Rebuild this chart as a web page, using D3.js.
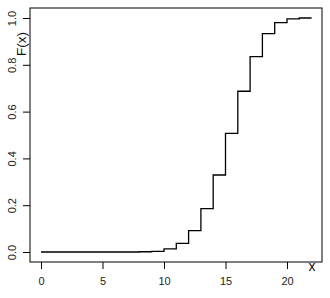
<!DOCTYPE html>
<html>
<head>
<meta charset="utf-8">
<script src="https://cdn.jsdelivr.net/npm/d3@7"></script>
<style>
  body { margin: 0; background: #fff; }
  svg { display: block; font-family: "Liberation Sans", Arial, sans-serif; }
  .axis path, .axis line { stroke: #000; }
  .axis text { fill: #222; font-size: 11px; }
</style>
</head>
<body>
<script>
// step points of the distribution function
var xVals = [0, 1, 2, 3, 4, 5, 6, 7, 8, 9, 10, 11, 12, 13, 14, 15, 16, 17, 18, 19, 20, 21, 22];
var fVals = [0, 0, 0, 0, 0, 0, 0, 0, 0.001, 0.003, 0.013, 0.037, 0.091, 0.185, 0.329, 0.507, 0.687, 0.835, 0.933, 0.98, 0.996, 1.0, 1.0];
var xTicks = [0, 5, 10, 15, 20];
var yTicks = [0, 0.2, 0.4, 0.6, 0.8, 1.0];

var width = 330, height = 298;
var box = {left: 30, top: 8, right: 322, bottom: 262};

var svg = d3.select("body").append("svg")
    .attr("width", width)
    .attr("height", height);

var x = d3.scaleLinear()
    .domain([0, 22])
    .range([41, 311.6]);

var y = d3.scaleLinear()
    .domain([0, 1])
    .range([252, 18]);

var data = xVals.map(function(d, i) { return {x: d, f: fVals[i]}; });

var line = d3.line()
    .curve(d3.curveStepAfter)
    .x(function(d) { return x(d.x); })
    .y(function(d) { return y(d.f); });

svg.append("path")
    .datum(data)
    .attr("fill", "none")
    .attr("stroke", "#000")
    .attr("stroke-width", 1.3)
    .attr("d", line);

// frame
svg.append("rect")
    .attr("x", box.left)
    .attr("y", box.top)
    .attr("width", box.right - box.left)
    .attr("height", box.bottom - box.top)
    .attr("fill", "none")
    .attr("stroke", "#000");

var xAxis = svg.append("g")
    .attr("class", "axis")
    .attr("transform", "translate(0," + box.bottom + ")")
    .call(d3.axisBottom(x).tickValues(xTicks).tickSize(7).tickSizeOuter(0).tickFormat(d3.format("d")));
xAxis.select(".domain").remove();
xAxis.selectAll("text").attr("y", 23).attr("dy", 0);

var yAxis = svg.append("g")
    .attr("class", "axis")
    .attr("transform", "translate(" + box.left + ",0)")
    .call(d3.axisLeft(y).tickValues(yTicks).tickSize(7).tickSizeOuter(0).tickFormat(d3.format(".1f")));
yAxis.select(".domain").remove();
yAxis.selectAll("text")
    .attr("transform", "rotate(-90)")
    .attr("x", 0)
    .attr("y", -14)
    .attr("dy", 0)
    .style("text-anchor", "middle");

svg.append("text")
    .attr("transform", "translate(25.5,44) rotate(-90)")
    .attr("text-anchor", "middle")
    .style("font-size", "13.5px")
    .attr("fill", "#111")
    .text("F(x)");

svg.append("text")
    .attr("x", 312)
    .attr("y", 271)
    .attr("text-anchor", "middle")
    .style("font-size", "14px")
    .attr("fill", "#111")
    .text("x");
</script>
</body>
</html>
